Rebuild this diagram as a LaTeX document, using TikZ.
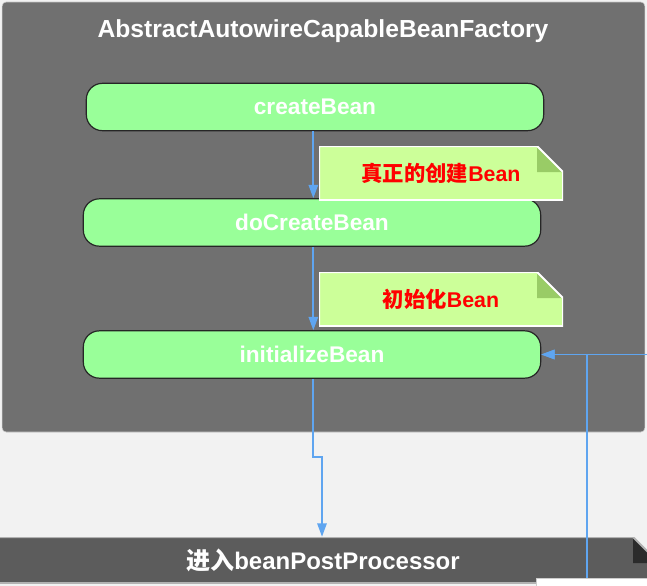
\documentclass[tikz,border=0pt]{standalone}
\usepackage{fontspec}
\setmainfont{Liberation Sans}
\newfontfamily\cjk{Noto Sans CJK SC}
\usepackage{tikz}
\usetikzlibrary{arrows.meta, positioning}
\usepackage{xcolor}
\definecolor{canvas}{HTML}{F2F2F2}
\definecolor{panel}{HTML}{707070}
\definecolor{stepgreen}{HTML}{99FF99}
\definecolor{memo}{HTML}{CCFF99}
\definecolor{memofold}{HTML}{99CC66}
\definecolor{exitgray}{HTML}{5C5C5C}
\definecolor{exitfold}{HTML}{2B2B2B}
\definecolor{wire}{HTML}{5FA5F0}

\begin{document}
\begin{tikzpicture}[
  x=0.75pt, y=-0.75pt,
  every node/.style={align=center, inner sep=0pt},
  panelbox/.style={rectangle, draw=gray!45, fill=panel, rounded corners=3pt, minimum width=482pt, minimum height=322.5pt},
  call/.style   ={rectangle, draw=black!85, line width=0.9pt, fill=stepgreen, rounded corners=12pt, minimum width=343pt, minimum height=35.5pt, text=white, font=\bfseries\fontsize{17}{20}\selectfont},
  dogear/.style n args={4}{rectangle, fill=#1, path picture={
      \coordinate (pp) at (path picture bounding box.north east);
      \fill[#2] ([xshift=-19.5pt]pp) -- (pp) -- ([yshift=-19.5pt]pp) -- cycle;
      \fill[#3] ([xshift=-19.5pt]pp) |- ([yshift=-19.5pt]pp) -- cycle;
      \draw[#4, line width=1.5pt] (path picture bounding box.south west) |- ([xshift=-19.5pt]pp)
        -- ([yshift=-19.5pt]pp) |- (path picture bounding box.south west);
    }},
  memobox/.style={dogear={memo}{panel}{memofold}{white}, minimum width=183pt, minimum height=40.5pt, text=red, font=\bfseries\fontsize{16}{19}\selectfont},
  exitbox/.style={dogear={exitgray}{canvas}{exitfold}{gray!60}, minimum width=504pt, minimum height=34.5pt, text=white, font=\bfseries\fontsize{18}{21}\selectfont},
  flow/.style={draw=wire, line width=1.3pt, -{Triangle[length=10pt, width=7pt]}}
]

\useasboundingbox (0,0) rectangle (647,586);
\clip (0,0) rectangle (647,586);
\fill[canvas] (0,0) rectangle (647,586);

\node[panelbox] (panel) at (323.5,217) {};
\node[text=white, font=\bfseries\fontsize{18.5}{22}\selectfont] (title) at (323,31) {AbstractAutowireCapableBeanFactory};

\node[call] (cb)  at (315,107)   {createBean};
\node[call] (dcb) at (312,222.5) {doCreateBean};
\node[call] (ib)  at (312,354.5) {initializeBean};

\node[memobox] (n1) at (441,173) {{\cjk 真正的创建}Bean};
\node[memobox] (n2) at (441,299) {{\cjk 初始化}Bean};

\node[exitbox] (bpp) at (323,560) {{\cjk 进入}beanPostProcessor};
\node[rectangle, fill=white, draw=gray!40, minimum width=93pt, minimum height=18pt] (lbl) at (598,590) {};

\coordinate (kink) at (322,457);
\coordinate (tap) at (587,354.5);
\coordinate (offpage) at (665,354.5);

\draw[flow] ([xshift=1pt]dcb.north |- cb.south) -- ([xshift=1pt]dcb.north);
\draw[flow] ([xshift=1pt]dcb.south) -- ([xshift=1pt]ib.north);
\draw[flow] ([xshift=1pt]ib.south) |- (kink) -- (kink |- bpp.north);
\draw[flow] (offpage) -- (ib.east);
\draw[flow] (lbl.north -| tap) -- (tap) -- (ib.east);

\end{tikzpicture}
\end{document}
